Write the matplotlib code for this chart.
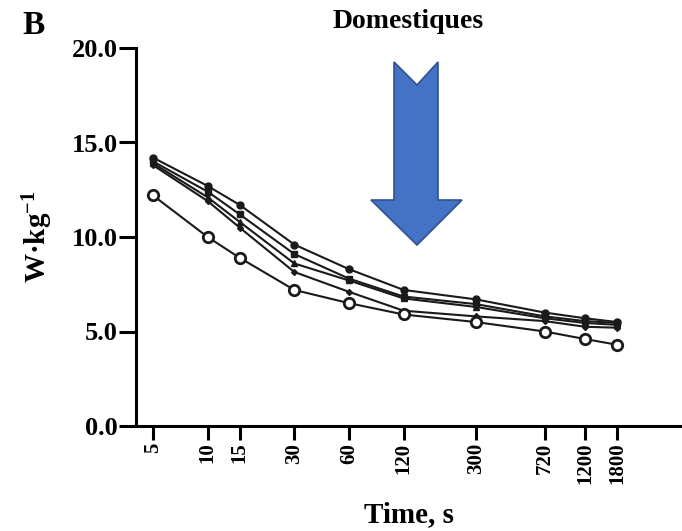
import matplotlib
matplotlib.use('Agg')
import matplotlib.pyplot as plt
from matplotlib.patches import Polygon
from matplotlib.ticker import FixedLocator, NullLocator

plt.rcParams['font.family'] = ['Liberation Serif', 'DejaVu Serif']
plt.rcParams['font.weight'] = 'bold'
plt.rcParams['mathtext.fontset'] = 'custom'
plt.rcParams['mathtext.rm'] = 'Liberation Serif:bold'
plt.rcParams['mathtext.it'] = 'Liberation Serif:bold'
plt.rcParams['mathtext.bf'] = 'Liberation Serif:bold'

# durations (s) and relative power (W/kg) for each group
times = [5, 10, 15, 30, 60, 120, 300, 720, 1200, 1800]
tick_labels = ['5', '10', '15', '30', '60', '120', '300', '720', '1200', '1800']
series_a = [14.2, 12.7, 11.7, 9.6, 8.3, 7.2, 6.7, 6.0, 5.7, 5.5]
series_b = [14.0, 12.4, 11.2, 9.1, 7.8, 6.85, 6.45, 5.8, 5.55, 5.45]
series_c = [13.9, 12.1, 10.8, 8.6, 7.7, 6.75, 6.3, 5.7, 5.45, 5.35]
series_d = [13.8, 11.9, 10.5, 8.15, 7.1, 6.1, 5.8, 5.55, 5.25, 5.2]
series_e = [12.2, 10.0, 8.9, 7.2, 6.5, 5.9, 5.5, 5.0, 4.6, 4.3]

fig = plt.figure(figsize=(6.82, 5.31), dpi=100)
ax = fig.add_axes([136 / 682, 1 - 426 / 531, 1 - 136 / 682, (426 - 48) / 531])

lc = '#1a1a1a'
ax.plot(times, series_a, color=lc, lw=1.5, marker='o', ms=5, mfc=lc, mec=lc)
ax.plot(times, series_b, color=lc, lw=1.5, marker='s', ms=5, mfc=lc, mec=lc)
ax.plot(times, series_c, color=lc, lw=1.5, marker='^', ms=4.5, mfc=lc, mec=lc)
ax.plot(times, series_d, color=lc, lw=1.5, marker='D', ms=3, mfc=lc, mec=lc)
ax.plot(times, series_e, color=lc, lw=1.5, marker='o', ms=7.5, mfc='white',
        mec=lc, mew=2)

ax.set_xscale('log')
ax.set_xlim(4.03, 4100)
ax.set_ylim(0, 20)
ax.xaxis.set_major_locator(FixedLocator(times))
ax.xaxis.set_minor_locator(NullLocator())
ax.set_xticklabels(tick_labels, rotation=90, fontsize=15, fontweight='bold')
ax.set_yticks([0, 5, 10, 15, 20])
ax.set_yticklabels(['0.0', '5.0', '10.0', '15.0', '20.0'], fontsize=19,
                   fontweight='bold')

for side in ['top', 'right']:
    ax.spines[side].set_visible(False)
for side in ['left', 'bottom']:
    ax.spines[side].set_linewidth(2.2)
ax.tick_params(axis='x', width=2.2, length=10, pad=2)
ax.tick_params(axis='y', width=2.2, length=12, pad=1)

ax.set_xlabel('Time, s', fontsize=21, fontweight='bold', labelpad=12)
ax.set_ylabel('W·kg$^{-1}$', fontsize=21, fontweight='bold', labelpad=12)

fig.text(22 / 682, 1 - 26 / 531, 'B', fontsize=24, fontweight='bold',
         va='center', ha='left')
fig.text(408 / 682, 1 - 22 / 531, 'Domestiques', fontsize=20, fontweight='bold',
         va='center', ha='center')

# blue arrow pointing down
arrow_px = [(371, 200), (394, 200), (394, 62), (417, 85), (438, 62),
            (438, 200), (462, 200), (417, 245)]
arrow_pts = [(x / 682, 1 - y / 531) for x, y in arrow_px]
fig.add_artist(Polygon(arrow_pts, closed=True, transform=fig.transFigure,
                       facecolor='#4472C4', edgecolor='#2F528F', lw=1.2))

plt.savefig('out.png', dpi=100)
